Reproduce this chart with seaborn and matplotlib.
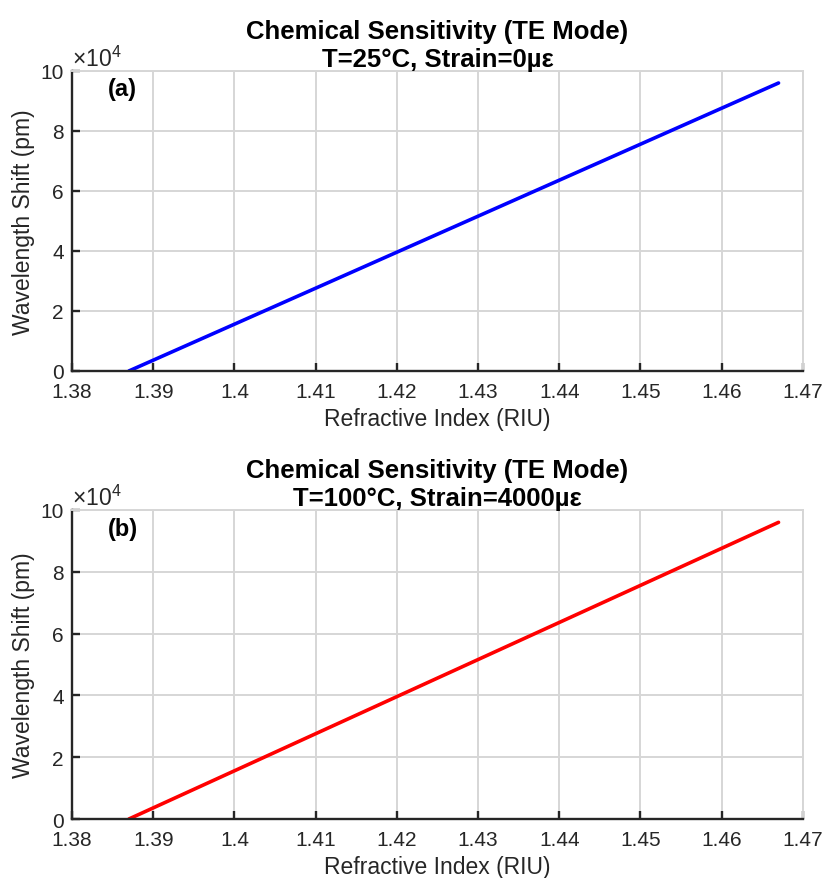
import pandas as pd
import seaborn as sns
import matplotlib.pyplot as plt
from matplotlib.ticker import FuncFormatter, MultipleLocator

# Values
refractive_index = [1.387, 1.400, 1.420, 1.440, 1.467]
shift_a = [0, 15600, 39600, 63600, 96000]   # T=25°C, strain 0
shift_b = [0, 15600, 39600, 63600, 96000]   # T=100°C, strain 4000
panel_titles = ['Chemical Sensitivity (TE Mode)\nT=25°C, Strain=0µε',
                'Chemical Sensitivity (TE Mode)\nT=100°C, Strain=4000µε']
panel_tags = ['(a)', '(b)']
line_colors = ['#0000FF', '#FF0000']

sns.set_style('ticks')
plt.rcParams['font.family'] = ['Liberation Sans', 'DejaVu Sans']
plt.rcParams['mathtext.fontset'] = 'custom'
plt.rcParams['mathtext.rm'] = 'Liberation Sans'
plt.rcParams['mathtext.it'] = 'Liberation Sans'

fig = plt.figure(figsize=(8.24, 8.79), dpi=100)
ax_a = fig.add_axes([0.0874, 0.5768, 0.887, 0.3413])
ax_b = fig.add_axes([0.0874, 0.0671, 0.887, 0.3516])

for ax, shift, title, tag, color in zip([ax_a, ax_b], [shift_a, shift_b],
                                        panel_titles, panel_tags, line_colors):
    df = pd.DataFrame({'ri': refractive_index, 'shift': shift})
    sns.lineplot(data=df, x='ri', y='shift', ax=ax, color=color, linewidth=2.6)

    ax.set_xlim(1.38, 1.47)
    ax.set_ylim(0, 100000)
    ax.xaxis.set_major_locator(MultipleLocator(0.01))
    ax.yaxis.set_major_locator(MultipleLocator(20000))
    ax.xaxis.set_major_formatter(FuncFormatter(lambda v, p: f'{v:.2f}'.rstrip('0').rstrip('.')))
    ax.yaxis.set_major_formatter(FuncFormatter(lambda v, p: f'{v / 1e4:g}'))

    # MATLAB-like look: light grid, dark left/bottom axes
    ax.grid(True, color='#d6d6d6', linewidth=1.4)
    ax.set_axisbelow(True)
    for side in ['top', 'right']:
        ax.spines[side].set_color('#d6d6d6')
        ax.spines[side].set_linewidth(1.4)
    for side in ['left', 'bottom']:
        ax.spines[side].set_color('#262626')
        ax.spines[side].set_linewidth(1.7)
    ax.tick_params(direction='in', length=6, width=1.7, colors='#262626',
                   labelsize=15, labelcolor='#262626')
    ax.tick_params(axis='x', pad=8)
    ax.tick_params(axis='y', pad=6)

    ax.set_xlabel('Refractive Index (RIU)', fontsize=16.5, color='#262626', labelpad=4)
    ax.set_ylabel('Wavelength Shift (pm)', fontsize=16.5, color='#262626', labelpad=4)
    ax.set_title(title, fontsize=18.5, fontweight='bold', color='black',
                 linespacing=1.2, pad=3)

    ax.text(0.0, 1.0, r'$\times10^{4}$', transform=ax.transAxes, fontsize=16.5,
            color='#262626', ha='left', va='bottom')
    ax.text(0.049, 0.94, tag, transform=ax.transAxes, fontsize=17,
            fontweight='bold', color='black', ha='left', va='center')

plt.savefig('out.png', dpi=100)
